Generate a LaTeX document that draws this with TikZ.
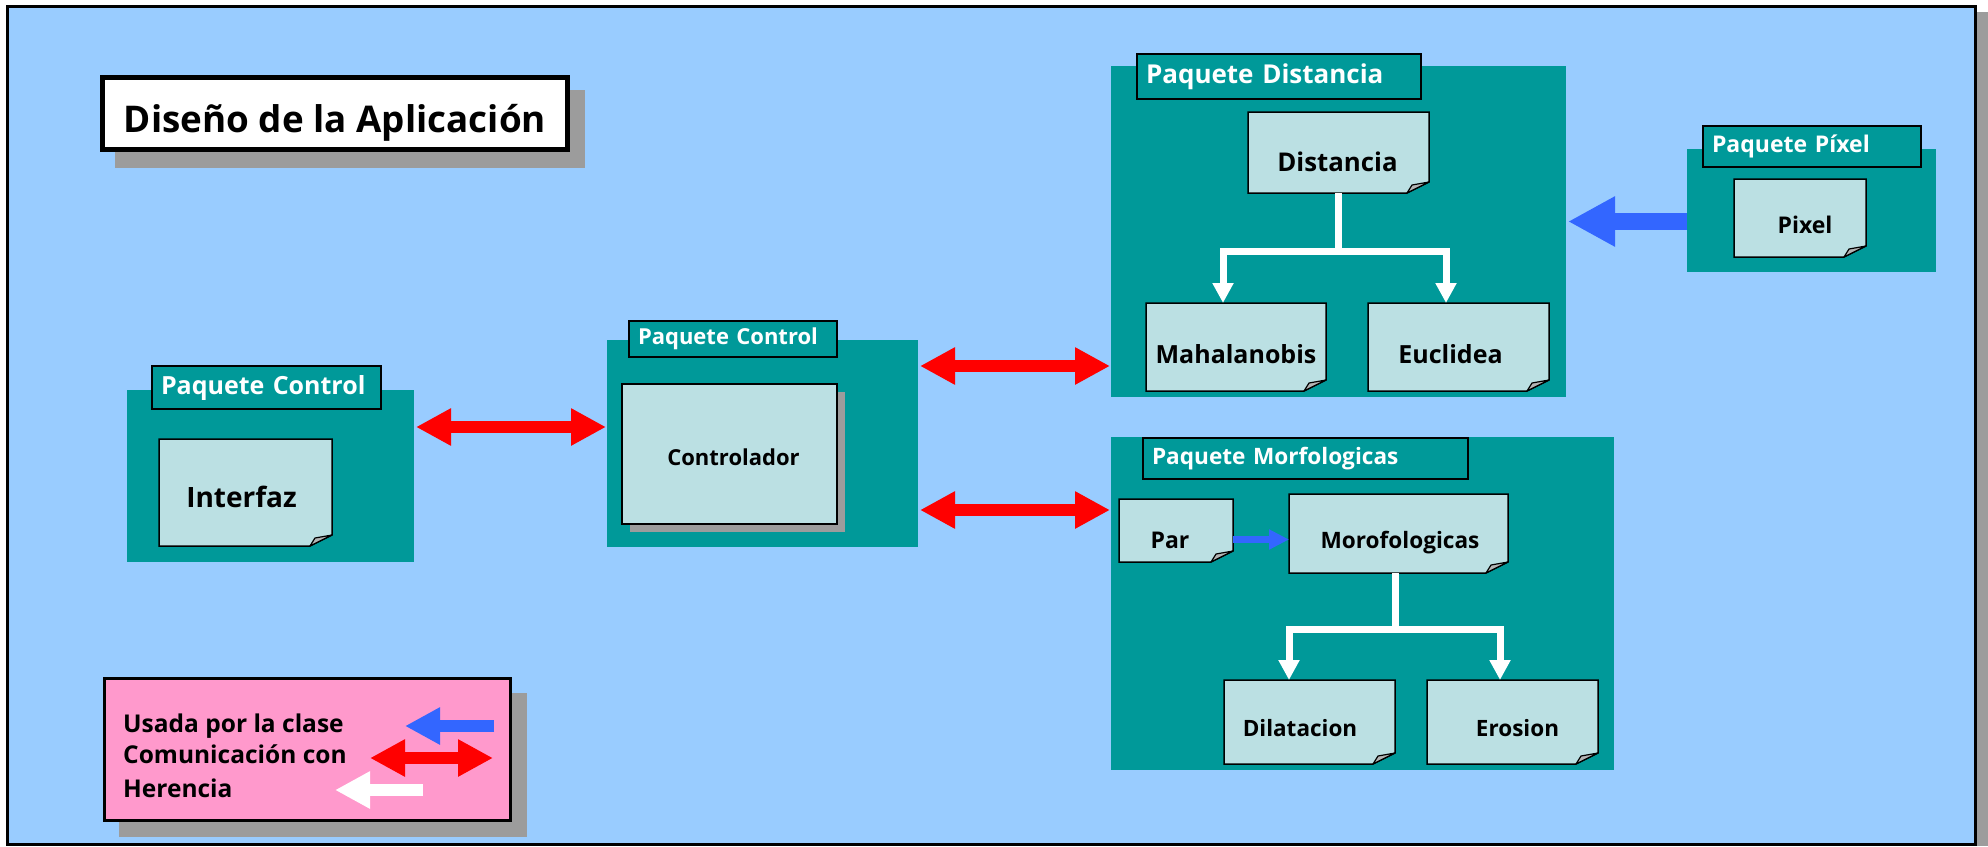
\documentclass[tikz,border=0pt]{standalone}
\usepackage{fontspec}
\setmainfont{Open Sans}
\usetikzlibrary{arrows.meta,fit}
\pgfdeclarelayer{pkgs}
\pgfdeclarelayer{notes}
\pgfsetlayers{pkgs,notes,main}

\definecolor{skyback}{HTML}{99CCFF}
\definecolor{pkgteal}{HTML}{009999}
\definecolor{notefill}{HTML}{BBE0E3}
\definecolor{legpink}{HTML}{FF99CC}
\definecolor{usesblue}{HTML}{3366FF}
\definecolor{shadegray}{HTML}{9C9C9C}
\definecolor{foldgray}{HTML}{B4B4B4}

% text of a box: horizontal offset (twice the shift) and drop below the centre line
\newcommand\boxtext[3]{\hspace*{#1}\raisebox{#2}[0pt][0pt]{#3}}

% note with a folded bottom-right corner, drawn behind the node's text
\newcommand\foldnote[1]{%
  \begin{pgfonlayer}{notes}
    \filldraw[fill=notefill, draw=black, line width=1.5pt, line join=miter]
      (#1.north west) -- (#1.north east) -- ([yshift=11pt]#1.south east)
      -- ([xshift=-22pt]#1.south east) -- (#1.south west) -- cycle;
    \filldraw[fill=foldgray, draw=black, line width=1.2pt, line join=round]
      ([yshift=11pt]#1.south east) -- ([xshift=-17pt,yshift=8pt]#1.south east)
      -- ([xshift=-22pt]#1.south east) -- cycle;
  \end{pgfonlayer}}

\begin{document}
\begin{tikzpicture}[x=1pt, y=-1pt,
  box/.style={inner sep=0pt, outer sep=0pt},
  pkg/.style={box, fill=pkgteal},
  fs/.style={font=\bfseries\fontsize{#1}{#1}\selectfont},
  tab/.style={fill=pkgteal, draw=black, line width=1.5pt, anchor=north west,
    inner xsep=9pt, inner ysep=0pt, outer sep=0pt, text width=#1,
    align=left, text=white},
  note/.style={box},
  comm/.style={draw=red, line width=12pt,
    arrows={Triangle[length=35pt,width=35pt]-Triangle[length=35pt,width=35pt]}},
  uses/.style={draw=usesblue, line width=#1},
  inherit/.style={draw=white, line width=7pt, line join=miter,
    arrows={-Triangle[length=20pt,width=20pt]}},
]
\useasboundingbox (0,0) rectangle (1988,846);

\begin{pgfonlayer}{pkgs}
  % slide frame and its shadow
  \fill[shadegray] (1977,12) rectangle (1988,846);
  \filldraw[fill=skyback, draw=black, line width=3pt] (7.5,6) rectangle (1975.5,844);
  % drop shadows of the title and legend boxes
  \fill[shadegray] (115,90) rectangle (585,168);
  \fill[shadegray] (119,693) rectangle (527,837);
  % packages
  \node[pkg, fit={(127,390) (414,562)}] (pkgI) {};
  \node[pkg, fit={(607,340) (918,547)}] (pkgC) {};
  \node[pkg, fit={(1111,66) (1566,397)}] (pkgD) {};
  \node[pkg, fit={(1687,149) (1936,272)}] (pkgP) {};
  \node[pkg, fit={(1111,437) (1614,770)}] (pkgM) {};
\end{pgfonlayer}

% package name tabs
\node[tab=211pt, minimum height=43pt, fs=25] (tabI) at (152,366) {Paquete Control};
\node[tab=190pt, minimum height=36pt, fs=22] (tabC) at (629,321) {Paquete Control};
\node[tab=266pt, minimum height=45pt, fs=26] (tabD) at (1137,54) {Paquete Distancia};
\node[tab=200pt, minimum height=41pt, fs=23] (tabP) at (1703,126) {Paquete Píxel};
\node[tab=307pt, minimum height=41pt, fs=22.6] (tabM) at (1143,438) {Paquete Morfologicas};

% title
\node[box, fill=white, draw=black, line width=5pt, fs=36.8,
  fit={(102.5,77.5) (567.5,149.5)}] (title) {\boxtext{0pt}{-18.6pt}{Diseño de la Aplicación}};

% classes
\node[note, fs=28, fit={(159,439) (332,546)}] (interfaz) {\boxtext{-8pt}{-14.5pt}{Interfaz}};
\foldnote{interfaz}

\begin{pgfonlayer}{notes}
  \fill[shadegray] (630,392) rectangle (845,532);
\end{pgfonlayer}
\node[box, fill=notefill, draw=black, line width=1.5pt, fs=22,
  fit={(622,384) (837,524)}] (ctl) {\boxtext{8pt}{-11.9pt}{Controlador}};

\node[note, fs=25.8, fit={(1248,112) (1429,193)}] (dist) {\boxtext{-2pt}{-18.7pt}{Distancia}};
\foldnote{dist}
\node[note, fs=25, fit={(1146,303) (1326,391)}] (maha) {\boxtext{0pt}{-16.9pt}{Mahalanobis}};
\foldnote{maha}
\node[note, fs=25, fit={(1368,303) (1549,391)}] (eucl) {\boxtext{-16pt}{-16.9pt}{Euclidea}};
\foldnote{eucl}

\node[note, fs=23, fit={(1734,179) (1866,257)}] (pixel) {\boxtext{10pt}{-15.2pt}{Pixel}};
\foldnote{pixel}

\node[note, fs=23, fit={(1119,499) (1233,562)}] (par) {\boxtext{-12pt}{-17.7pt}{Par}};
\foldnote{par}
\node[note, fs=22.6, fit={(1289,494) (1508,573)}] (morf) {\boxtext{3pt}{-14.6pt}{Morofologicas}};
\foldnote{morf}
\node[note, fs=22.5, fit={(1224,680) (1395,764)}] (dila) {\boxtext{-19pt}{-14pt}{Dilatacion}};
\foldnote{dila}
\node[note, fs=22.5, fit={(1427,680) (1598,764)}] (eros) {\boxtext{10pt}{-14pt}{Erosion}};
\foldnote{eros}

% communication between packages
\coordinate (yA) at (0,427);
\coordinate (yB) at (0,366);
\coordinate (yC) at (0,510);
\draw[comm] ([xshift=2pt]pkgI.east |- yA) -- ([xshift=-1pt]pkgC.west |- yA);
\draw[comm] ([xshift=2pt]pkgC.east |- yB) -- ([xshift=-1pt]pkgD.west |- yB);
\draw[comm] ([xshift=2pt]pkgC.east |- yC) -- ([xshift=-1pt]pkgM.west |- yC);

% use relations
\coordinate (yP) at (0,221.5);
\draw[uses=17pt, arrows={-Triangle[length=47pt,width=47pt]}]
  (pkgP.west |- yP) -- ([xshift=2pt]pkgD.east |- yP);
\coordinate (yQ) at (0,539.5);
\draw[uses=7pt, arrows={-Triangle[length=20pt,width=19pt]}]
  (par.east |- yQ) -- (morf.west |- yQ);

% inheritance
\coordinate (dJ) at (dist.south |- 0,251);
\draw[inherit, arrows=-] (dist.south) -- (dJ);
\draw[inherit] (dJ) -| ([xshift=-13pt]maha.north);
\draw[inherit] (dJ) -| ([xshift=-12.5pt]eucl.north);
\coordinate (mJ) at ([xshift=-3.5pt]morf.south |- 0,629.5);
\draw[inherit, arrows=-] ([xshift=-3.5pt]morf.south) -- (mJ);
\draw[inherit] (mJ) -| ([xshift=-20.5pt]dila.north);
\draw[inherit] (mJ) -| ([xshift=-12.5pt]eros.north);

% legend
\node[box, fill=legpink, draw=black, line width=3pt, fit={(104.5,678.5) (510.5,820.5)}] (legend) {};
\node[fs=24.5, anchor=base west, inner sep=0pt] (legU) at (123,732) {Usada por la clase};
\node[fs=24.5, anchor=base west, inner sep=0pt] (legC) at (123,763) {Comunicación con};
\node[fs=24.5, anchor=base west, inner sep=0pt] (legH) at (123,797) {Herencia};
\coordinate (kUs) at (494,726);  \coordinate (kUe) at (405,726);
\coordinate (kCs) at (370,758);  \coordinate (kCe) at (493,758);
\coordinate (kHs) at (423,790);  \coordinate (kHe) at (335,790);
\draw[uses=12pt, arrows={-Triangle[length=35pt,width=35pt]}] (kUs) -- (kUe);
\draw[comm] (kCs) -- (kCe);
\draw[draw=white, line width=12pt, arrows={-Triangle[length=35pt,width=35pt]}] (kHs) -- (kHe);
\end{tikzpicture}
\end{document}
